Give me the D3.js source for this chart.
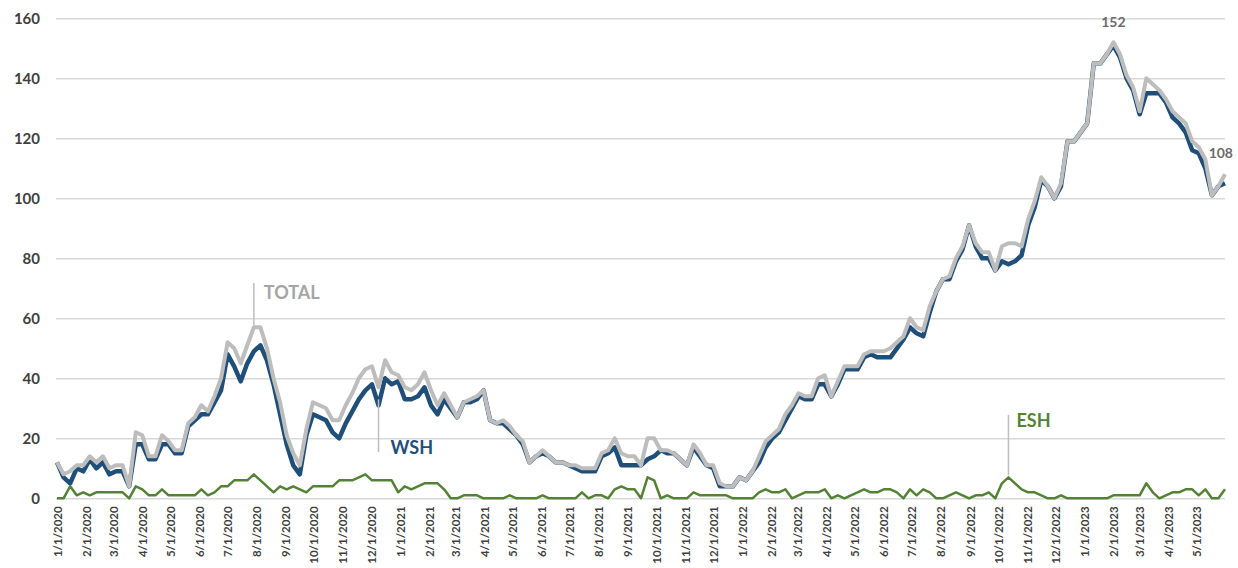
<!DOCTYPE html>
<html>
<head>
<meta charset="utf-8">
<script src="https://cdn.jsdelivr.net/npm/d3@7"></script>
<style>
  body { margin: 0; background: #fff; }
  text { font-family: Lato, "Open Sans", sans-serif; }
  .grid line { stroke: #d9d9d9; stroke-width: 1.5; }
  .yAxis text { fill: #3f3f3f; font-size: 15px; font-weight: bold; }
  .xAxis text { fill: #3f3f3f; font-size: 11.5px; font-weight: bold; }
</style>
</head>
<body>
<svg id="chart"></svg>
<script>
// weekly counts, first week starts 1/1/2020
const startDate = new Date(2020, 0, 1);

const total = [12,8,9,11,11,14,12,14,10,11,11,4,22,21,14,14,21,19,16,16,
  25,27,31,29,34,40,52,50,45,51,57,57,50,40,32,21,15,11,23,32,
  31,30,26,26,31,35,40,43,44,37,46,42,41,37,36,38,42,36,31,35,
  31,27,32,33,34,36,26,25,26,24,21,19,12,14,16,14,12,12,11,11,
  10,10,10,15,16,20,15,14,14,11,20,20,16,16,15,13,11,18,15,11,
  11,5,4,4,7,6,9,14,19,21,23,28,31,35,34,34,40,41,34,39,
  44,44,44,48,49,49,49,50,52,54,60,57,56,64,69,73,74,80,84,91,
  85,82,82,76,84,85,85,84,93,99,107,104,100,105,119,119,122,125,145,145,
  148,152,148,141,137,129,140,138,136,133,129,127,125,119,117,113,101,104,108];

const wsh = [12,7,5,10,9,13,10,12,8,9,9,4,18,18,13,13,18,18,15,15,
  24,26,28,28,32,36,48,44,39,45,49,51,46,38,28,18,11,8,21,28,
  27,26,22,20,25,29,33,36,38,31,40,38,39,33,33,34,37,31,28,33,
  30,27,32,32,33,36,26,25,25,23,21,18,12,14,15,14,12,12,11,10,
  9,9,9,14,15,17,11,11,11,11,13,14,16,15,15,13,11,17,14,11,
  10,4,4,4,7,6,9,12,17,20,22,26,30,34,33,33,38,38,34,38,
  43,43,43,47,48,47,47,47,50,53,57,55,54,62,69,73,73,79,83,91,
  84,80,80,76,79,78,79,81,91,97,106,104,100,104,119,119,122,125,145,145,
  148,151,147,140,136,128,135,135,135,132,127,125,122,116,115,110,101,104,105];

const esh = [0,0,4,1,2,1,2,2,2,2,2,0,4,3,1,1,3,1,1,1,
  1,1,3,1,2,4,4,6,6,6,8,6,4,2,4,3,4,3,2,4,
  4,4,4,6,6,6,7,8,6,6,6,6,2,4,3,4,5,5,5,3,
  0,0,1,1,1,0,0,0,0,1,0,0,0,0,1,0,0,0,0,0,
  2,0,1,1,0,3,4,3,3,0,7,6,0,1,0,0,0,2,1,1,
  1,1,1,0,0,0,0,2,3,2,2,3,0,1,2,2,2,3,0,1,
  0,1,2,3,2,2,3,3,2,0,3,1,3,2,0,0,1,2,1,0,
  1,1,2,0,5,7,5,3,2,2,1,0,0,1,0,0,0,0,0,0,
  0,1,1,1,1,1,5,2,0,1,2,2,3,3,1,3,0,0,3];

const yTicks = [0, 20, 40, 60, 80, 100, 120, 140, 160];

const weeks = d3.range(total.length).map(i => d3.timeDay.offset(startDate, 7 * i));

const width = 1238, height = 568;
const plotLeft = 57, plotRight = 1225, plotTop = 18.3, plotBottom = 498.3;

const svg = d3.select('#chart')
  .attr('width', width)
  .attr('height', height);

const x = d3.scaleTime()
  .domain([weeks[0], weeks[weeks.length - 1]])
  .range([plotLeft, plotRight]);

const y = d3.scaleLinear()
  .domain([0, 160])
  .range([plotBottom, plotTop]);

// gridlines + y labels
svg.append('g')
  .attr('class', 'grid yAxis')
  .attr('transform', `translate(${plotLeft - 1},0)`)
  .call(d3.axisLeft(y).tickValues(yTicks).tickSize(-(plotRight - plotLeft + 1)).tickPadding(16))
  .call(g => g.select('.domain').remove());

// x labels, one per month
svg.append('g')
  .attr('class', 'xAxis')
  .attr('transform', `translate(0,${plotBottom})`)
  .call(d3.axisBottom(x)
    .ticks(d3.timeMonth.every(1))
    .tickFormat(d3.timeFormat('%-m/%-d/%Y'))
    .tickSize(0))
  .call(g => g.select('.domain').remove())
  .selectAll('text')
    .attr('transform', 'rotate(-90)')
    .attr('text-anchor', 'end')
    .attr('x', -8)
    .attr('y', 0)
    .attr('dy', '0.35em');

function line(values) {
  return d3.line()
    .x((d, i) => x(weeks[i]))
    .y(d => y(d))(values);
}

svg.append('path')
  .attr('d', line(wsh))
  .attr('fill', 'none')
  .attr('stroke', '#1f4e79')
  .attr('stroke-width', 4.5)
  .attr('stroke-linejoin', 'round');

svg.append('path')
  .attr('d', line(total))
  .attr('fill', 'none')
  .attr('stroke', '#bdbdbd')
  .attr('stroke-width', 4)
  .attr('stroke-linejoin', 'round');

svg.append('path')
  .attr('d', line(esh))
  .attr('fill', 'none')
  .attr('stroke', '#548235')
  .attr('stroke-width', 2.5)
  .attr('stroke-linejoin', 'round');

// annotations
const peakIdx = total.indexOf(d3.max(total));
const lastIdx = total.length - 1;

svg.append('text')
  .attr('x', x(weeks[peakIdx]))
  .attr('y', y(total[peakIdx]) - 15)
  .attr('text-anchor', 'middle')
  .style('font-size', '14px')
  .style('font-weight', 'bold')
  .style('fill', '#6b6b6b')
  .text(total[peakIdx]);

svg.append('text')
  .attr('x', x(weeks[lastIdx]) + 8)
  .attr('y', y(total[lastIdx]) - 16)
  .attr('text-anchor', 'end')
  .style('font-size', '14px')
  .style('font-weight', 'bold')
  .style('fill', '#6b6b6b')
  .text(total[lastIdx]);

function callout(idx, yTop, yBottom, label, color, tx, ty) {
  const px = x(weeks[idx]);
  svg.append('line')
    .attr('x1', px).attr('x2', px)
    .attr('y1', yTop).attr('y2', yBottom)
    .attr('stroke', '#bfbfbf')
    .attr('stroke-width', 1.5);
  svg.append('text')
    .attr('x', px + tx)
    .attr('y', ty)
    .style('font-size', '18px')
    .style('font-weight', 'bold')
    .style('fill', color)
    .text(label);
}

callout(30, 283, y(total[30]) - 2, 'TOTAL', '#a5a5a5', 10, 299);
callout(49, y(wsh[49]) - 6, 452, 'WSH', '#1f4e79', 12, 454);
callout(145, 415, y(esh[145]) - 2, 'ESH', '#548235', 8, 427);
</script>
</body>
</html>
